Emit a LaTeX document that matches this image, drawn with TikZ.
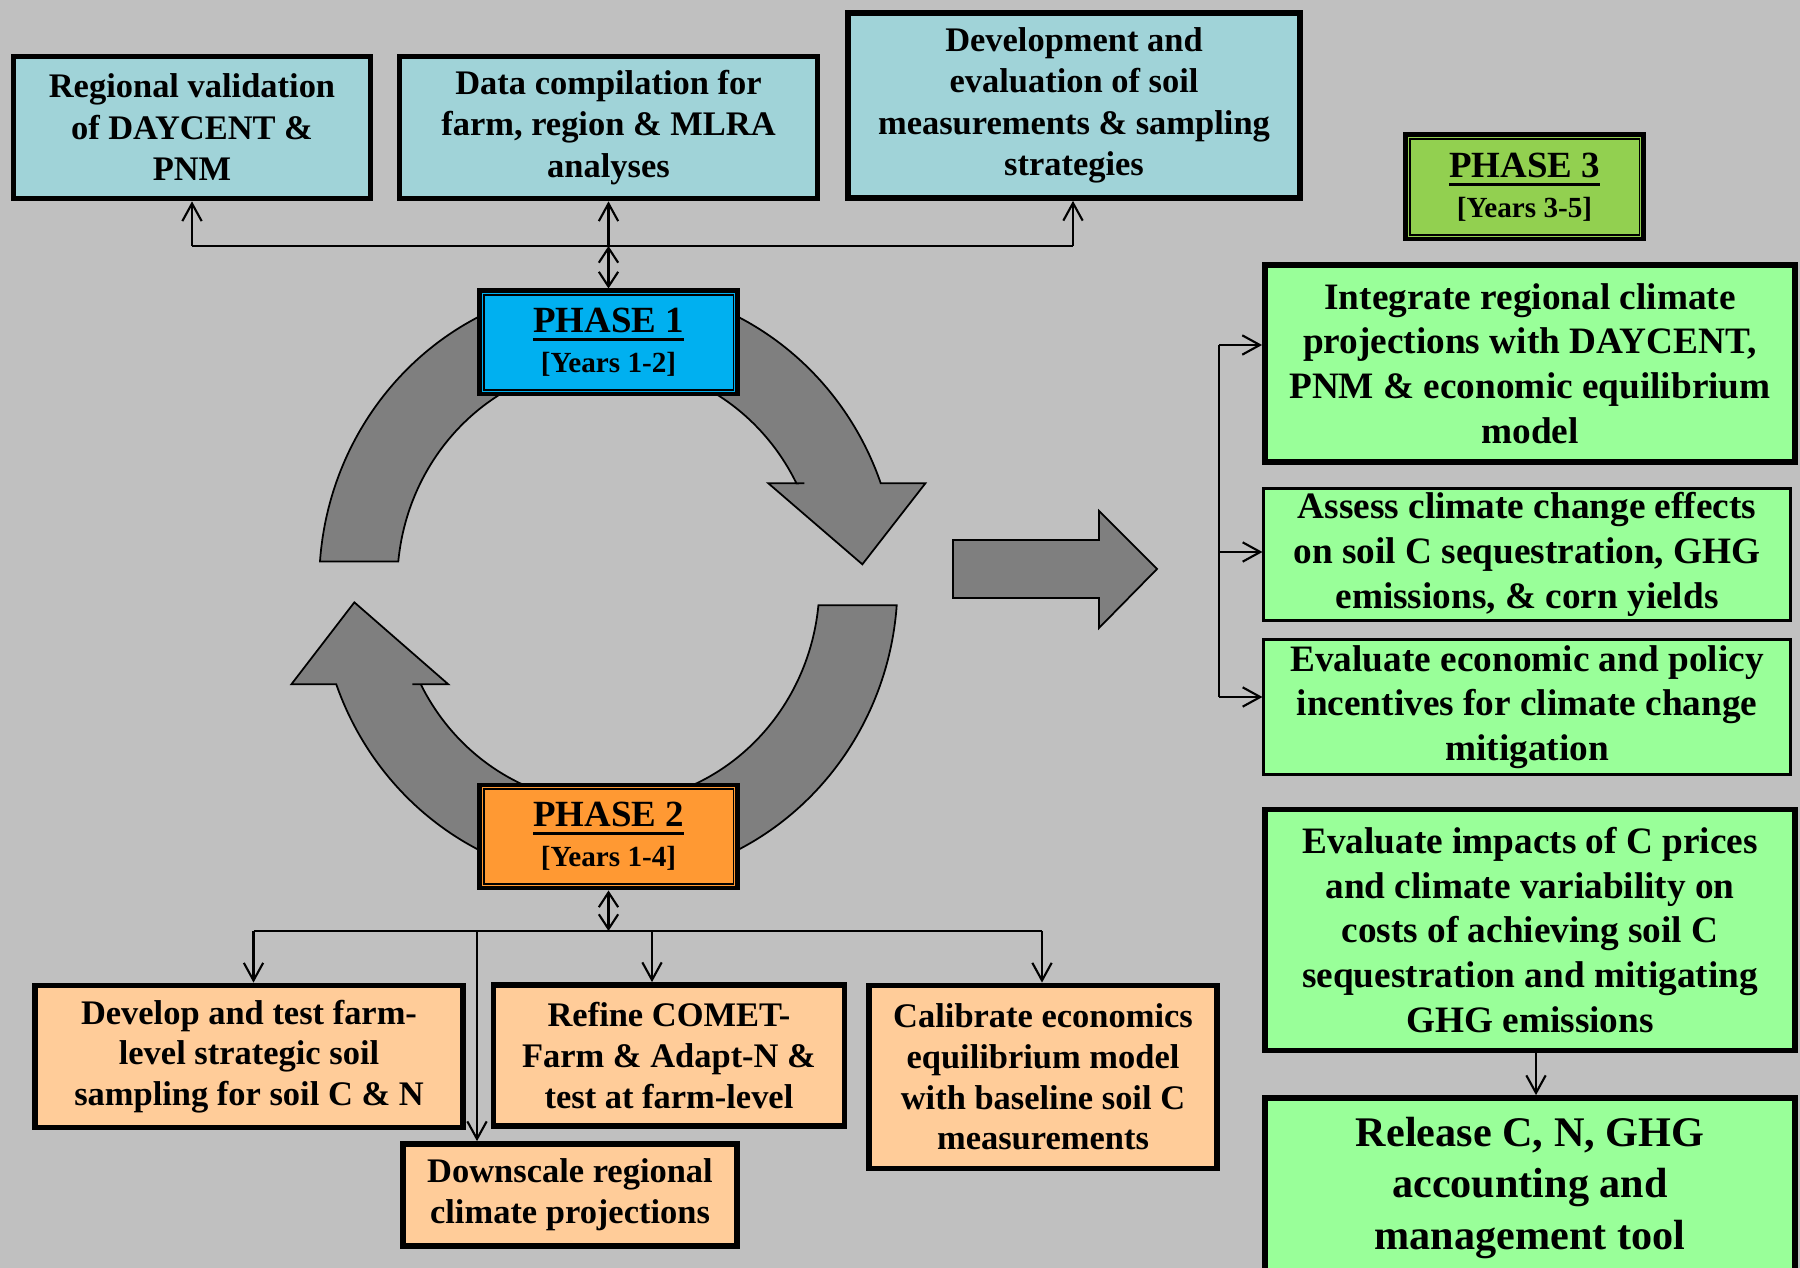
\documentclass[tikz,border=0pt]{standalone}
\usepackage{fontspec}
\setmainfont{Liberation Serif}
\usetikzlibrary{arrows.meta,calc}
\definecolor{bgc}{HTML}{C0C0C0}
\definecolor{bluec}{HTML}{A0D3D8}
\definecolor{greenc}{HTML}{99FF99}
\definecolor{orangec}{HTML}{FFCC99}
\definecolor{ph1c}{HTML}{00B0F0}
\definecolor{ph2c}{HTML}{FF9933}
\definecolor{ph3c}{HTML}{92D050}
\definecolor{arrowgray}{HTML}{7F7F7F}
\newcommand\phul[1]{\setbox0\hbox{#1}\rlap{\rule[-2.4pt]{\wd0}{0.8pt}}#1}
\begin{document}
\begin{tikzpicture}[x=0.01cm,y=-0.01cm,
  box/.style={draw=black, line width=1.6pt, align=center, inner sep=1pt, text=black},
  bluebox/.style={box, fill=bluec, font=\bfseries\fontsize{9.8}{11.8}\selectfont},
  greenbox/.style={box, fill=greenc, font=\bfseries\fontsize{10.6}{12.7}\selectfont},
  orangebox/.style={box, fill=orangec, font=\bfseries\fontsize{9.8}{11.6}\selectfont},
  phasebox/.style={draw=black, line width=1.4pt, align=center, inner sep=1pt,
     minimum width=2.57cm, minimum height=1.03cm, font=\bfseries\fontsize{10.5}{11.4}\selectfont},
  cyc/.style={fill=arrowgray, draw=black, line width=0.5pt},
  conn/.style={line width=0.6pt},
  arr/.style={conn, -{Straight Barb[length=5pt,width=5.5pt]}},
  arrb/.style={conn, {Straight Barb[length=4.2pt,width=5.5pt]}-{Straight Barb[length=4.2pt,width=5.5pt]}}]

\useasboundingbox (0,0) rectangle (1800,1268);
\clip (0,0) rectangle (1800,1268);
\fill[bgc] (0,0) rectangle (1800,1268);

% cycle arrows
\begin{scope}[shift={(6.08cm,-5.83cm)}, x=0.01cm, y=0.01cm]
  % right arrow (top -> right)
  \filldraw[cyc] (75:2.89cm and 2.98cm) arc[start angle=75, end angle=19.6, x radius=2.89cm, y radius=2.98cm]
    -- (280,100) -- (317,100) -- (254,19) -- (160,100) -- (196,100)
    -- (27:2.11cm and 2.20cm) arc[start angle=27, end angle=75, x radius=2.11cm, y radius=2.20cm] -- cycle;
  % top-left arc
  \filldraw[cyc] (105:2.89cm and 2.98cm) arc[start angle=105, end angle=175.8, x radius=2.89cm, y radius=2.98cm]
    -- (174.3:2.11cm and 2.20cm) arc[start angle=174.3, end angle=105, x radius=2.11cm, y radius=2.20cm] -- cycle;
  % bottom-right arc
  \filldraw[cyc] (-75:2.89cm and 2.98cm) arc[start angle=-75, end angle=-4.2, x radius=2.89cm, y radius=2.98cm]
    -- (-5.7:2.11cm and 2.20cm) arc[start angle=-5.7, end angle=-75, x radius=2.11cm, y radius=2.20cm] -- cycle;
  % bottom-left arrow (bottom -> left)
  \filldraw[cyc] (255:2.89cm and 2.98cm) arc[start angle=255, end angle=199.8, x radius=2.89cm, y radius=2.98cm]
    -- (-280,-101) -- (-317,-101) -- (-254,-19) -- (-160,-101) -- (-196,-101)
    -- (207.3:2.11cm and 2.20cm) arc[start angle=207.3, end angle=255, x radius=2.11cm, y radius=2.20cm] -- cycle;
\end{scope}

% big block arrow
\filldraw[cyc] (953,540) -- (1099,540) -- (1099,511) -- (1157,569) -- (1099,628) -- (1099,598) -- (953,598) -- cycle;

% top boxes
\node[bluebox, minimum width=3.57cm, minimum height=1.42cm] (A) at (192,127.5)
  {Regional validation\\of DAYCENT \&\\PNM};
\node[bluebox, minimum width=4.18cm, minimum height=1.42cm] (B) at (608.5,127.5)
  {Data compilation for\\farm, region \& MLRA\\analyses};
\node[bluebox, minimum width=4.52cm, minimum height=1.85cm] (C) at (1074,105.5)
  {Development and\\evaluation of soil\\measurements \& sampling\\strategies};

% phase boxes
\node[phasebox, fill=ph1c] (P1) at (608.5,342.5)
  {\phul{PHASE 1}\\{\fontsize{8.3}{10}\selectfont [Years 1-2]}};
\node[phasebox, fill=ph2c] (P2) at (608.5,836.5)
  {\phul{PHASE 2}\\{\fontsize{8.3}{10}\selectfont [Years 1-4]}};
\node[phasebox, fill=ph3c, minimum width=2.37cm, minimum height=1.04cm] (P3) at (1524.5,187)
  {\phul{PHASE 3}\\{\fontsize{8.3}{10}\selectfont [Years 3-5]}};
\foreach \p in {P1,P2,P3}{
  \draw[line width=0.4pt] ([xshift=1.8pt,yshift=-1.8pt]\p.north west) rectangle ([xshift=-1.8pt,yshift=1.8pt]\p.south east);
}

% phase 3 boxes
\node[greenbox, minimum width=5.30cm, minimum height=1.97cm] (G1) at (1530,363.5)
  {Integrate regional climate\\projections with DAYCENT,\\PNM \& economic equilibrium\\model};
\node[greenbox, line width=0.8pt, minimum width=5.26cm, minimum height=1.32cm] (G2) at (1527,554.5)
  {Assess climate change effects\\on soil C sequestration, GHG\\emissions, \& corn yields};
\node[greenbox, line width=0.8pt, minimum width=5.26cm, minimum height=1.35cm] (G3) at (1527,707)
  {Evaluate economic and policy\\incentives for climate change\\mitigation};
\node[greenbox, minimum width=5.30cm, minimum height=2.41cm] (G4) at (1530,930)
  {Evaluate impacts of C prices\\and climate variability on\\costs of achieving soil C\\sequestration and mitigating\\GHG emissions};
\node[greenbox, font=\bfseries\fontsize{12}{14.7}\selectfont, minimum width=5.30cm, minimum height=1.80cm] (G5) at (1530,1188)
  {Release C, N, GHG\\accounting and\\management tool};

% phase 2 boxes
\node[orangebox, minimum width=4.28cm, minimum height=1.42cm] (O1) at (249,1056.5)
  {Develop and test farm-\\level strategic soil\\sampling for soil C \& N};
\node[orangebox, minimum width=3.51cm, minimum height=1.41cm] (O2) at (669,1055.5)
  {Refine COMET-\\Farm \& Adapt-N \&\\test at farm-level};
\node[orangebox, minimum width=3.48cm, minimum height=1.83cm] (O3) at (1043,1077)
  {Calibrate economics\\equilibrium model\\with baseline soil C\\measurements};
\node[orangebox, minimum width=3.34cm, minimum height=1.02cm] (O4) at (570,1195)
  {Downscale regional\\climate projections};

% top connectors
\coordinate (t0) at (608.5,246);
\coordinate (tA) at (192,246);
\coordinate (tC) at (1073,246);
\draw[conn] (tA) -- (tC);
\draw[arr] (tA) -- (tA |- A.south);
\draw[arr] (t0) -- (t0 |- B.south);
\draw[arr] (tC) -- (tC |- C.south);
\draw[arrb] (P1.north) -- (t0);

% phase 3 connectors
\coordinate (v1) at (1219,345);
\coordinate (v2) at (1219,552);
\coordinate (v3) at (1219,697);
\draw[conn] (v1) -- (v3);
\draw[arr] (v1) -- (v1 -| G1.west);
\draw[arr] (v2) -- (v2 -| G2.west);
\draw[arr] (v3) -- (v3 -| G3.west);
\coordinate (g4s) at (1536,1053);
\draw[arr] (g4s) -- (g4s |- G5.north);

% phase 2 connectors
\coordinate (b0) at (608.5,931);
\coordinate (bL) at (253.5,931);
\coordinate (bM) at (652,931);
\coordinate (bD) at (477,931);
\coordinate (bR) at (1042,931);
\draw[arrb] (P2.south) -- (b0);
\draw[conn] (bL) -- (bR);
\draw[arr] (bL) -- (bL |- O1.north);
\draw[arr] (bM) -- (bM |- O2.north);
\draw[arr] (bR) -- (bR |- O3.north);
\draw[arr] (bD) -- (bD |- O4.north);
\end{tikzpicture}
\end{document}
